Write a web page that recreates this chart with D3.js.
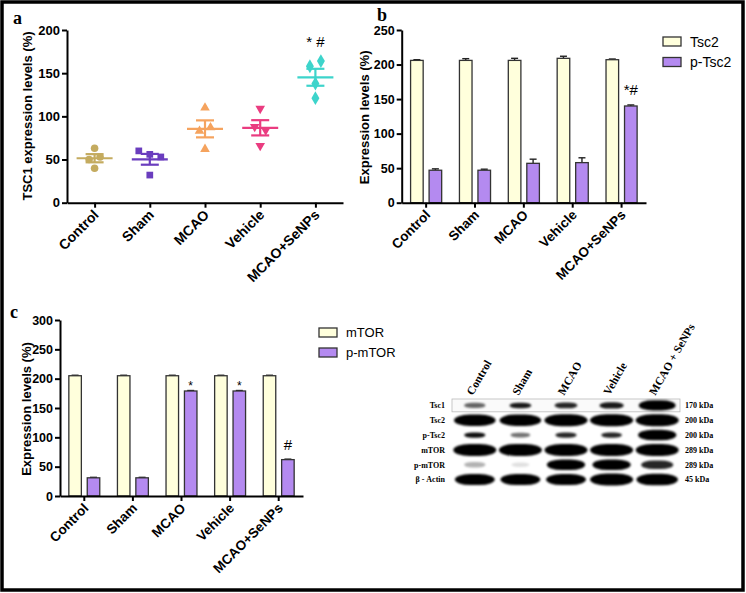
<!DOCTYPE html>
<html><head><meta charset="utf-8">
<script src="https://cdn.jsdelivr.net/npm/d3@7"></script>
<style>
body{margin:0;background:#fff}
svg{display:block}
text{font-family:Arial,"Liberation Sans",sans-serif}
.serif{font-family:"Liberation Serif","Times New Roman",serif;font-weight:bold}
</style>
</head><body>
<svg id="chart" width="746" height="593"></svg>
<script>
// ---------- data ----------
const groups = ["Control", "Sham", "MCAO", "Vehicle", "MCAO+SeNPs"];

// panel a: TSC1 individual points
const tsc1Points = [
  [63, 53, 50, 40],
  [56, 60, 53, 32],
  [110, 87, 83, 62],
  [109, 88, 84, 66],
  [164, 158, 138, 121]
];
const tsc1Ticks = [0, 50, 100, 150, 200];
const sigA = ["", "", "", "", "* #"];

// panel b
const tsc2Values = [206, 206, 206, 209, 207];
const tsc2Err = [1, 2.5, 3, 3, 1];
const pTsc2Values = [47, 47, 57, 58, 140];
const pTsc2Err = [2, 1.5, 6, 7, 1.5];
const bTicks = [0, 50, 100, 150, 200, 250];
const sigB = ["", "", "", "", "*#"];

// panel c
const mtorValues = [205, 205, 205, 205, 205];
const mtorErr = [0.8, 0.8, 0.8, 0.8, 0.8];
const pMtorValues = [31, 31, 179, 179, 62];
const pMtorErr = [0.8, 0.8, 0.8, 0.8, 0.8];
const cTicks = [0, 50, 100, 150, 200, 250, 300];
const sigC = ["", "", "*", "*", "#"];

// western blot
const blotLanes = ["Control", "Sham", "MCAO", "Vehicle", "MCAO + SeNPs"];
const blotRows = ["Tsc1", "Tsc2", "p-Tsc2", "mTOR", "p-mTOR", "β - Actin"];
const blotKDa = ["170 kDa", "200 kDa", "200 kDa", "289 kDa", "289 kDa", "45  kDa"];
const blotSize = [
  [0.3, 0.32, 0.35, 0.4, 0.8],
  [0.95, 0.95, 1, 1, 1],
  [0.3, 0.25, 0.3, 0.28, 0.85],
  [1, 1, 1, 1, 1],
  [0.3, 0.2, 0.85, 0.85, 0.65],
  [0.9, 0.9, 0.9, 1, 0.95]
];
const blotDark = [
  [0.6, 0.9, 0.85, 0.9, 1],
  [1, 1, 1, 1, 1],
  [0.95, 0.55, 0.85, 0.85, 1],
  [1, 1, 1, 1, 1],
  [0.3, 0.12, 1, 1, 0.85],
  [1, 1, 1, 1, 1]
];

// ---------- styles ----------
const scatterColors = ["#C4AB5F", "#6A3DBE", "#F5A35E", "#EA3C80", "#3DD4CB"];
const scatterShapes = [d3.symbolCircle, d3.symbolSquare, d3.symbolTriangle, d3.symbolTriangle, d3.symbolDiamond];
const scatterSizes = [45, 45, 40, 40, 55];
const barFill = ["#FFFFDC", "#B48AF0"];
const barStroke = "#333";

const svg = d3.select("#chart");
svg.append("rect").attr("width", 746).attr("height", 593).attr("fill", "#fff");

function styleAxis(g, fs) {
  g.select(".domain").attr("stroke", "#000").attr("stroke-width", 2);
  g.selectAll(".tick line").attr("stroke", "#000").attr("stroke-width", 2);
  g.selectAll(".tick text").attr("font-size", fs).attr("font-weight", "bold")
    .attr("fill", "#000").attr("font-family", "Arial, Liberation Sans, sans-serif");
}

function xLabels(g, x, y0, fs) {
  g.selectAll(".xl").data(groups).join("text")
    .attr("transform", d => `translate(${x(d) + 5},${y0 + 13}) rotate(-45)`)
    .attr("text-anchor", "end").attr("font-size", fs).attr("font-weight", "bold")
    .text(d => d);
}

function yLabel(txt, x, cy, fs) {
  svg.append("text").attr("transform", `translate(${x},${cy}) rotate(-90)`)
    .attr("text-anchor", "middle").attr("font-size", fs).attr("font-weight", "bold").text(txt);
}

function panelLetter(t, x, y) {
  svg.append("text").attr("class", "serif").attr("x", x).attr("y", y)
    .attr("font-size", 18).text(t);
}

// ---------- panel a ----------
(function () {
  const y = d3.scaleLinear().domain([0, 200]).range([202.7, 30]);
  const x = d3.scalePoint().domain(groups).range([67, 343]).padding(0.5);
  const g = svg.append("g");
  const ya = g.append("g").attr("transform", "translate(67,0)")
    .call(d3.axisLeft(y).tickValues(tsc1Ticks).tickSize(5).tickSizeOuter(0).tickPadding(2));
  styleAxis(ya, 13);
  const xa = g.append("g").attr("transform", "translate(0,202.7)")
    .call(d3.axisBottom(x).tickSize(5).tickSizeOuter(0).tickFormat(""));
  styleAxis(xa, 13);
  xLabels(g, x, 202.7, 14);

  tsc1Points.forEach((pts, i) => {
    const cx = x(groups[i]);
    const col = scatterColors[i];
    const mean = d3.mean(pts);
    const sem = d3.deviation(pts) / Math.sqrt(pts.length);
    // jitter: spread points with close values
    const order = pts.map((v, k) => ({v, k})).sort((a, b) => b.v - a.v);
    const offs = new Array(pts.length).fill(0);
    let cl = [order[0]];
    const clusters = [];
    for (let k = 1; k < order.length; k++) {
      if (cl[cl.length - 1].v - order[k].v < 8) cl.push(order[k]);
      else { clusters.push(cl); cl = [order[k]]; }
    }
    clusters.push(cl);
    clusters.forEach(c => {
      if (c.length > 1) c.forEach((p, j) => { offs[p.k] = (j - (c.length - 1) / 2) * 11 * (i % 2 ? 1 : -1); });
    });
    pts.forEach((v, k) => {
      g.append("path")
        .attr("d", d3.symbol().type(scatterShapes[i]).size(scatterSizes[i])())
        .attr("transform", `translate(${cx + offs[k]},${y(v)})` + (i === 3 ? " rotate(180)" : ""))
        .attr("fill", col);
    });
    g.append("line").attr("x1", cx - 18).attr("x2", cx + 18).attr("y1", y(mean)).attr("y2", y(mean))
      .attr("stroke", col).attr("stroke-width", 2.2);
    g.append("line").attr("x1", cx).attr("x2", cx).attr("y1", y(mean - sem)).attr("y2", y(mean + sem))
      .attr("stroke", col).attr("stroke-width", 2.2);
    [mean - sem, mean + sem].forEach(v => g.append("line")
      .attr("x1", cx - 9).attr("x2", cx + 9).attr("y1", y(v)).attr("y2", y(v))
      .attr("stroke", col).attr("stroke-width", 2.2));
    if (sigA[i]) g.append("text").attr("x", cx).attr("y", y(d3.max(pts)) - 14)
      .attr("text-anchor", "middle").attr("font-size", 15).text(sigA[i]);
  });
  yLabel("TSC1 expression levels (%)", 32, 116, 13);
  panelLetter("a", 13, 24);
})();

// ---------- bar panels ----------
function barPanel(cfg) {
  const y = d3.scaleLinear().domain([0, d3.max(cfg.ticks)]).range([cfg.y0, cfg.y1]);
  const x0 = d3.scaleBand().domain(groups).range([cfg.xl, cfg.xr]);
  const x1 = d3.scaleBand().domain([0, 1]).range([0, x0.bandwidth()]).paddingInner(0.32).paddingOuter(0.48);
  const g = svg.append("g");
  const series = [cfg.a, cfg.b];
  const errs = [cfg.ae, cfg.be];
  series.forEach((vals, s) => {
    vals.forEach((v, i) => {
      const bx = x0(groups[i]) + x1(s);
      const bw = x1.bandwidth();
      const e = errs[s][i];
      g.append("line").attr("x1", bx + bw / 2).attr("x2", bx + bw / 2)
        .attr("y1", y(v)).attr("y2", y(v + e)).attr("stroke", "#222").attr("stroke-width", 1.4);
      g.append("line").attr("x1", bx + bw / 2 - 3.5).attr("x2", bx + bw / 2 + 3.5)
        .attr("y1", y(v + e)).attr("y2", y(v + e)).attr("stroke", "#222").attr("stroke-width", 1.4);
      g.append("rect").attr("x", bx).attr("y", y(v)).attr("width", bw).attr("height", y(0) - y(v))
        .attr("fill", barFill[s]).attr("stroke", barStroke).attr("stroke-width", 1.3);
    });
  });
  cfg.sig.forEach((t, i) => {
    if (!t) return;
    const bx = x0(groups[i]) + x1(1) + x1.bandwidth() / 2;
    const top = y(cfg.b[i] + cfg.be[i]);
    const star = t === "*";
    g.append("text").attr("x", bx).attr("y", top - (star ? 1 : cfg.sigGap))
      .attr("text-anchor", "middle").attr("font-size", star ? 12 : cfg.sigFs).text(t);
  });
  const ya = g.append("g").attr("transform", `translate(${cfg.xl},0)`)
    .call(d3.axisLeft(y).tickValues(cfg.ticks).tickSize(5).tickSizeOuter(0).tickPadding(2));
  styleAxis(ya, 12.5);
  const xa = g.append("g").attr("transform", `translate(0,${cfg.y0})`)
    .call(d3.axisBottom(x0).tickSize(5).tickSizeOuter(0).tickFormat(""));
  styleAxis(xa, 13);
  xLabels(g, d => x0(d) + x0.bandwidth() / 2, cfg.y0, 13.5);
  // legend
  cfg.names.forEach((n, s) => {
    g.append("rect").attr("x", cfg.lx).attr("y", cfg.ly + s * cfg.lstep).attr("width", 18).attr("height", 9)
      .attr("fill", barFill[s]).attr("stroke", barStroke).attr("stroke-width", 1.3);
    g.append("text").attr("x", cfg.lx + 27).attr("y", cfg.ly + s * cfg.lstep + 4.5).attr("dy", "0.36em")
      .attr("font-size", cfg.lfs).text(n);
  });
  yLabel("Expression levels (%)", cfg.ylx, (cfg.y0 + cfg.y1) / 2 + 1, 13);
}

barPanel({a: tsc2Values, ae: tsc2Err, b: pTsc2Values, be: pTsc2Err, ticks: bTicks,
  y0: 202.7, y1: 30, xl: 401.7, xr: 646, sig: sigB, sigGap: 10, sigFs: 15,
  names: ["Tsc2", "p-Tsc2"], lx: 663, ly: 37, lstep: 20.5, lfs: 14, ylx: 369});
panelLetter("b", 377, 21);

barPanel({a: mtorValues, ae: mtorErr, b: pMtorValues, be: pMtorErr, ticks: cTicks,
  y0: 496, y1: 320, xl: 60, xr: 303, sig: sigC, sigGap: 9, sigFs: 15,
  names: ["mTOR", "p-mTOR"], lx: 319, ly: 328, lstep: 20, lfs: 13, ylx: 31});
panelLetter("c", 10, 318);

// ---------- western blot ----------
(function () {
  const defs = svg.append("defs");
  defs.append("filter").attr("id", "blur").attr("x", "-30%").attr("y", "-80%").attr("width", "160%").attr("height", "260%")
    .append("feGaussianBlur").attr("stdDeviation", 0.9);
  const lx = d3.scaleBand().domain(blotLanes).range([452, 680]);
  const ry = d3.scaleBand().domain(blotRows).range([398, 487]);
  const g = svg.append("g");
  g.append("rect").attr("x", 452).attr("y", ry("Tsc1") + 1).attr("width", 228).attr("height", ry.bandwidth() - 2)
    .attr("fill", "#fafafa").attr("stroke", "#bbb").attr("stroke-width", 0.8);
  blotRows.forEach((r, ri) => {
    const cy = ry(r) + ry.bandwidth() / 2;
    blotLanes.forEach((l, li) => {
      const s = blotSize[ri][li];
      const w = 12 + 31 * s, h = 2.5 + 9.5 * s;
      g.append("rect").attr("x", lx(l) + lx.bandwidth() / 2 - w / 2).attr("y", cy - h / 2)
        .attr("width", w).attr("height", h).attr("rx", w / 2.6).attr("ry", h / 2)
        .attr("fill", "#000").attr("fill-opacity", blotDark[ri][li]).attr("filter", "url(#blur)");
    });
    g.append("text").attr("class", "serif").attr("x", 445).attr("y", cy).attr("dy", "0.35em")
      .attr("text-anchor", "end").attr("font-size", 8).text(r);
    g.append("text").attr("class", "serif").attr("x", 685).attr("y", cy).attr("dy", "0.35em")
      .attr("font-size", 8).text(blotKDa[ri]);
  });
  blotLanes.forEach(l => {
    g.append("text").attr("class", "serif")
      .attr("transform", `translate(${lx(l) + lx.bandwidth() / 2 - 2},396) rotate(-60)`)
      .attr("font-size", 11.5).text(l);
  });
})();

// ---------- frame ----------
svg.append("rect").attr("x", 2).attr("y", 2).attr("width", 741).attr("height", 588)
  .attr("fill", "none").attr("stroke", "#000").attr("stroke-width", 3.5);
</script>
</body></html>
